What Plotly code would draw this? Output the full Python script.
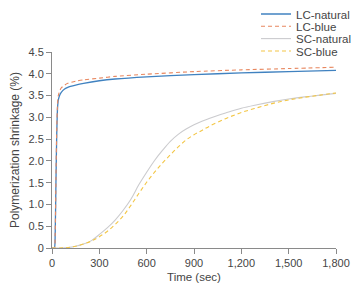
import plotly.graph_objects as go

# LC data (time in sec, shrinkage %)
lc_time = [0, 15, 20, 25, 30, 35, 40, 50, 60, 80, 100, 150, 200, 300, 400, 600, 900, 1200, 1500, 1800]
lc_natural = [0, 0, 0.3, 1.5, 2.6, 3.2, 3.4, 3.52, 3.58, 3.65, 3.69, 3.74, 3.78, 3.84, 3.88, 3.93, 3.98, 4.02, 4.05, 4.08]
lc_blue = [0, 0, 0.3, 1.6, 2.7, 3.3, 3.5, 3.62, 3.68, 3.74, 3.78, 3.83, 3.86, 3.90, 3.94, 3.99, 4.05, 4.09, 4.12, 4.15]

# SC data
sc_time = [0, 50, 100, 150, 200, 250, 300, 350, 400, 450, 500, 550, 600, 650, 700, 750,
           800, 850, 900, 950, 1000, 1100, 1200, 1300, 1400, 1500, 1600, 1700, 1800]
sc_natural = [0, 0, 0.01, 0.04, 0.09, 0.17, 0.31, 0.46, 0.64, 0.86, 1.12, 1.45, 1.74, 2.01, 2.24, 2.45,
              2.61, 2.73, 2.83, 2.91, 2.98, 3.10, 3.21, 3.29, 3.36, 3.42, 3.47, 3.51, 3.55]
sc_blue = [0, 0, 0.01, 0.04, 0.09, 0.16, 0.26, 0.38, 0.54, 0.73, 0.98, 1.25, 1.51, 1.74, 1.95, 2.14,
           2.32, 2.48, 2.60, 2.70, 2.80, 2.97, 3.11, 3.22, 3.32, 3.40, 3.46, 3.51, 3.56]

x_ticks = [0, 300, 600, 900, 1200, 1500, 1800]
x_ticktext = ["0", "300", "600", "900", "1,200", "1,500", "1,800"]
y_ticks = [0, 0.5, 1.0, 1.5, 2.0, 2.5, 3.0, 3.5, 4.0, 4.5]
y_ticktext = ["0", "0.5", "1.0", "1.5", "2.0", "2.5", "3.0", "3.5", "4.0", "4.5"]

FONT = "Liberation Sans, Arial"
TXT = "#454545"

fig = go.Figure()
fig.add_trace(go.Scatter(x=lc_time, y=lc_natural, name="LC-natural", mode="lines", legend="legend",
                         line=dict(color="#4082c0", width=1.3, shape="spline", smoothing=0.6)))
fig.add_trace(go.Scatter(x=lc_time, y=lc_blue, name="LC-blue", mode="lines", legend="legend2",
                         line=dict(color="#e8875f", width=1.1, dash="4px,3px", shape="spline", smoothing=0.6)))
fig.add_trace(go.Scatter(x=sc_time, y=sc_natural, name="SC-natural", mode="lines", legend="legend3",
                         line=dict(color="#cbcbce", width=1.1, shape="spline")))
fig.add_trace(go.Scatter(x=sc_time, y=sc_blue, name="SC-blue", mode="lines", legend="legend4",
                         line=dict(color="#f3c646", width=1.1, dash="4px,3px", shape="spline")))

axis_common = dict(showline=True, linecolor="#8a8a8a", linewidth=1, ticks="outside",
                   ticklen=5, tickcolor="#8a8a8a", showgrid=False, zeroline=False,
                   tickfont=dict(family=FONT, size=11, color=TXT))

def leg(ypix):
    return dict(x=256 / 352, y=1 - ypix / 287, xref="container", yref="container",
                xanchor="left", yanchor="middle", font=dict(family=FONT, size=11.5, color=TXT),
                itemwidth=30, bgcolor="rgba(0,0,0,0)", borderwidth=0)

fig.update_layout(
    width=352, height=287,
    margin=dict(l=52, r=16, t=52, b=39, autoexpand=False),
    paper_bgcolor="white", plot_bgcolor="white",
    font=dict(family=FONT, size=11, color=TXT),
    xaxis=dict(range=[0, 1800], tickvals=x_ticks, ticktext=x_ticktext,
               title=dict(text="Time (sec)", font=dict(size=11.5, color=TXT), standoff=4),
               **axis_common),
    yaxis=dict(range=[0, 4.5], tickvals=y_ticks, ticktext=y_ticktext,
               title=dict(text="Polymerization shrinkage (%)", font=dict(size=12, color=TXT), standoff=6),
               **axis_common),
    legend=leg(14),
    legend2=leg(26.3),
    legend3=leg(38.6),
    legend4=leg(51),
    showlegend=True,
)

fig.write_html("out.html")
